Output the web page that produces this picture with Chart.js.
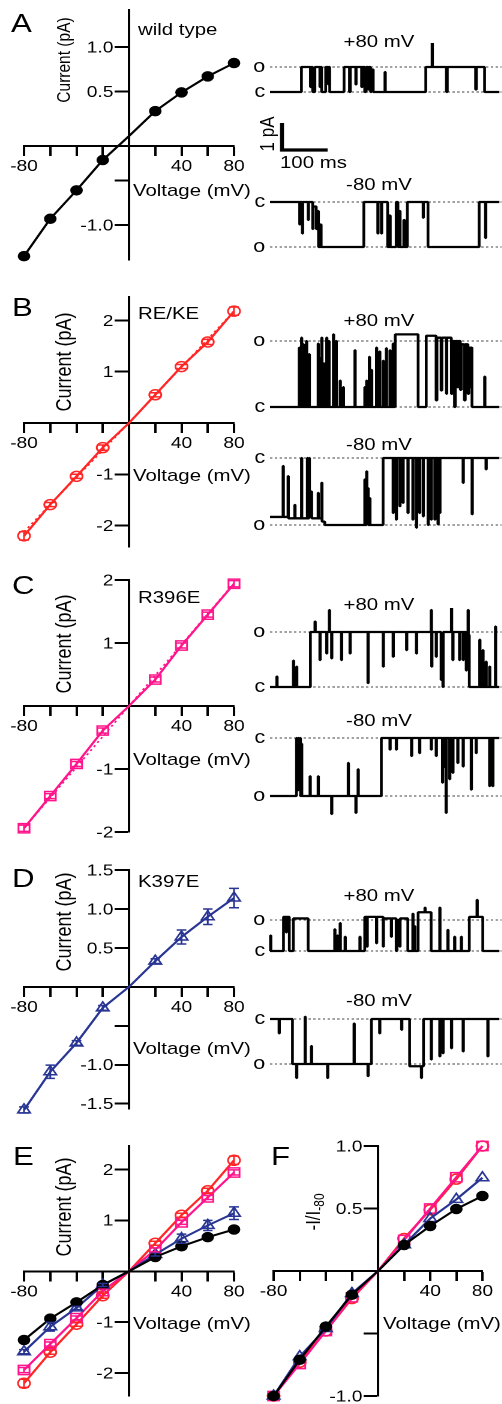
<!DOCTYPE html>
<html>
<head>
<meta charset="utf-8">
<script src="https://cdn.jsdelivr.net/npm/chart.js@4.4.1/dist/chart.umd.min.js"></script>
<style>
html, body { margin: 0; padding: 0; background: #fff; }
body { width: 502px; height: 1404px; overflow: hidden; position: relative; }
#wrap { position: absolute; left: 0; top: 0; width: 418.33px; height: 1404px; transform: scaleX(1.2); transform-origin: 0 0; }
.t { position: absolute; font-family: 'Liberation Sans', Arial, sans-serif; color: #000; white-space: nowrap; line-height: 1; }
.t sub { font-size: 70%; vertical-align: -0.25em; }
</style>
</head>
<body>
<div id="wrap"></div>
<script>
// ---- I-V data (pA) ----
const voltage = [-80, -60, -40, -20, 0, 20, 40, 60, 80];
const xTickLabels = [-80, 40, 80];

const wildType    = [-1.35, -0.93, -0.61, -0.27, 0, 0.28, 0.49, 0.67, 0.82];
const wildTypeErr = [0.03, 0.02, 0.02, 0.02, 0, 0.02, 0.02, 0.02, 0.03];
const reke        = [-2.2, -1.59, -1.04, -0.48, 0, 0.55, 1.1, 1.58, 2.18];
const rekeErr     = [0.08, 0.04, 0.04, 0.05, 0, 0.04, 0.04, 0.05, 0.08];
const r396e       = [-1.94, -1.43, -0.92, -0.39, 0, 0.42, 0.96, 1.45, 1.94];
const r396eErr    = [0.05, 0.04, 0.04, 0.04, 0, 0.04, 0.04, 0.04, 0.05];
const k397e       = [-1.58, -1.09, -0.72, -0.27, 0, 0.33, 0.64, 0.9, 1.14];
const k397eErr    = [0.04, 0.085, 0.03, 0.03, 0, 0.03, 0.09, 0.1, 0.124];

// dotted reference lines in B and C
const dotV    = [-80, 0, 80];
const rekeDot = [-2.12, 0, 2.18];
const r396Dot = [-1.94, 0, 1.95];

// normalized -I/I-80 (panel F)
const wildTypeNorm = [-1, -0.71, -0.445, -0.19, 0, 0.208, 0.36, 0.496, 0.6];
const rekeNorm     = [-1, -0.73, -0.48, -0.22, 0, 0.26, 0.49, 0.735, 1.0];
const r396eNorm    = [-1, -0.744, -0.48, -0.21, 0, 0.248, 0.5, 0.75, 1.0];
const k397eNorm    = [-1, -0.685, -0.46, -0.18, 0, 0.21, 0.42, 0.573, 0.746];

// ---- single channel traces: [time ms, fraction of open level] ----
const traceApos = [[0,0],[70,1],[90,0.2],[92,1],[95,0],[100,1],[111,0.2],[113,1],[115,0],[124,1],[130,0.3],[131,1],[133,0],[165,1],[177,0],[179,1],[191,0.3],[192,1],[204,0.2],[206,1],[211,0],[214,1],[218,0.1],[220,1],[224,0],[226,0.9],[230,0],[256,0.8],[257,0],[347,1],[361,2.2],[362,1],[393,0],[395,1],[458,0.1],[460,1],[478,0],[511,0]];
const traceAneg = [[0,0],[66,0.5],[67,0],[72,0.7],[73,0],[85,0.4],[86,0],[95,0.6],[96,0.1],[103,0.6],[105,0.2],[108,1],[112,0.5],[114,1],[209,0],[240,0.7],[241,0],[248,0.7],[249,0],[262,1],[266,0.3],[268,1],[281,0],[285,1],[288,0.2],[290,1],[298,0.4],[300,1],[306,0],[341,0.35],[342,0],[352,1],[466,0],[480,0.8],[481,0],[511,0]];

const traceBpos = [[0,0],[65,0.9],[66,0],[70,1.05],[71,0],[74,0.95],[75,0],[78,0.7],[79,0],[81,1.0],[82,0],[87,0.8],[88,0],[107,0.96],[108,0],[111,0.74],[112,0],[115,1.05],[116,0],[120,0.66],[121,0],[126,1.05],[127,0],[131,1.0],[132,0],[141,1.1],[142,0],[147,1.0],[148,0],[156,0.4],[157,0],[163,0.3],[164,0],[189,0.86],[190,0],[211,0.3],[212,0],[215,0.4],[216,0],[221,0.76],[222,0],[226,0.56],[227,0],[237,0.9],[238,0],[244,0.84],[245,0],[252,0.7],[253,0],[259,0.89],[260,0],[267,0.86],[268,0],[274,0.96],[275,0],[279,1.1],[330,0],[348,1.08],[370,0.1],[372,1.05],[381,0.25],[383,1.05],[393,0.2],[394,1.05],[404,0.2],[406,1.0],[411,0],[413,1.0],[418,0.3],[420,1.0],[424,0.26],[426,0.95],[433,0.1],[435,0.95],[441,0.2],[443,0.9],[446,0.3],[447,0.9],[450,0],[478,0.46],[479,0],[511,0]];
const traceBneg = [[0,0.88],[29,0.12],[30,0.88],[40,0.27],[41,0.9],[55,0.7],[56,0.9],[70,0],[71,0.9],[83,0],[84,0.9],[87,0],[88,0.85],[92,0.5],[93,0.9],[107,0.52],[108,0.9],[115,0.37],[116,0.95],[122,1.0],[211,0.32],[212,1.0],[215,0.2],[216,0.95],[218,0.45],[219,1.0],[222,0.6],[223,1.0],[252,0],[274,0.82],[275,0],[281,0.92],[282,0],[289,0.72],[290,0],[296,0.67],[297,0],[307,0.82],[308,0],[318,0.92],[319,0],[326,1.04],[327,0],[333,0.82],[334,0],[341,0.87],[342,0],[352,1.0],[353,0],[359,0.92],[360,0],[367,0.92],[368,0],[374,0.99],[375,0],[378,0.82],[379,0],[430,0.37],[431,0],[450,0.84],[451,0],[481,0.17],[482,0],[511,0]];

const traceCpos = [[0,0],[15,0.19],[16,0],[52,0.48],[53,0],[59,0.37],[60,0],[90,1.0],[100,1.19],[101,1.0],[111,0.49],[112,1.0],[126,0.61],[127,1.0],[132,1.4],[133,1.0],[137,0.52],[138,1.0],[159,0.49],[160,1.0],[178,0.61],[179,1.0],[218,0.07],[219,1.0],[252,0.37],[253,1.0],[274,0.55],[275,1.0],[304,0.67],[305,1.0],[326,0.61],[327,1.0],[359,1.4],[360,0.37],[361,1.0],[370,0.55],[371,1.0],[381,0.13],[382,0.8],[385,0],[386,1.0],[404,1.45],[405,1.0],[407,0.49],[408,1.0],[422,0.49],[423,1.0],[430,0.49],[431,1.0],[437,0.3],[438,0.95],[441,1.4],[442,0.95],[444,0],[467,0.86],[468,0],[474,0.67],[475,0],[481,0.46],[482,0],[489,0.37],[490,0],[502,1.1],[503,0],[511,0]];
const traceCneg = [[0,1.0],[59,0],[60,0.9],[63,0],[64,0.8],[67,0],[68,1.0],[70,0.1],[71,1.0],[89,0.66],[90,1.0],[107,0.66],[108,1.0],[137,1.31],[138,1.0],[174,0.43],[175,1.0],[191,1.29],[192,1.0],[196,0.54],[197,1.0],[248,0],[267,0.2],[268,0],[281,0.2],[282,0],[315,0.31],[316,0],[333,0.26],[334,0],[359,0.2],[360,0],[370,0.31],[371,0],[384,0.77],[385,0],[389,0.5],[390,0],[392,1.29],[393,0],[400,0.71],[401,0],[407,0.6],[408,0],[418,0.43],[419,0],[430,0.49],[431,0],[448,0.89],[449,0],[459,0.26],[460,0],[489,0.83],[490,0],[496,0.83],[497,0],[511,0]];

const traceDpos = [[0,0],[1,0.5],[2,0],[30,1.1],[36,0.6],[37,1.1],[43,0],[52,1.05],[85,0],[144,0.7],[145,0],[150,0.5],[151,0],[156,0.9],[157,0],[167,0.46],[168,0],[200,0.46],[201,0],[211,1.1],[216,0.14],[217,1.1],[237,0.25],[238,1.1],[252,0.14],[253,1.05],[270,0.46],[271,1.05],[281,0],[283,1.0],[289,0.14],[290,1.05],[307,0],[318,1.2],[319,0],[322,0.8],[323,0],[330,1.25],[345,1.4],[346,1.25],[359,0],[378,1.4],[379,0],[396,0.68],[397,0],[411,0.46],[412,0],[426,0.46],[427,0],[444,1.1],[461,1.65],[462,1.1],[474,0],[511,0]];
const traceDneg = [[0,0],[20,0.32],[21,0],[50,1.0],[59,1.31],[60,1.0],[78,-0.05],[79,1.0],[92,0.6],[93,1.0],[128,1.31],[129,1.0],[187,0.1],[188,1.0],[218,1.27],[219,1.0],[226,0],[244,0.32],[245,0],[293,0.24],[294,0],[311,1.05],[337,1.31],[338,1.05],[342,0],[359,0.9],[360,0],[378,0.83],[379,0],[385,0.76],[386,0],[404,0.65],[405,0],[430,0.72],[431,0],[485,0.83],[486,0],[511,0]];

// scale bar: 100 ms, 1 pA
const scaleBarT = [0, 0, 100];
const scaleBarI = [1, 0, 0];

// ---- layout ----
const S = 1.2;  // figure is stretched horizontally
const M = 24;
const wrap = document.getElementById('wrap');
const FONT = "'Liberation Sans', Arial, sans-serif";
Chart.defaults.font.family = FONT;
Chart.defaults.color = '#000';

const BLACK = '#000000', RED = '#ff2626', PINK = '#ff148c', BLUE = '#283593';

function addCanvas(left, top, w, h) {
  const c = document.createElement('canvas');
  w = Math.round(w); h = Math.round(h);
  c.width = w; c.height = h;
  c.style.cssText = 'position:absolute;left:' + left + 'px;top:' + top + 'px;width:' + w + 'px;height:' + h + 'px';
  wrap.appendChild(c);
  return c;
}

function text(str, x, y, size, mode) {
  const d = document.createElement('div');
  d.className = 't';
  d.innerHTML = str;
  d.style.left = (x / S) + 'px';
  d.style.top = y + 'px';
  d.style.fontSize = size + 'px';
  if (mode === 'rot') d.style.transform = 'translate(-50%,-50%) rotate(-90deg)';
  else if (mode === 'center') d.style.transform = 'translate(-50%,-50%)';
  else d.style.transform = 'translateY(-50%)';
  wrap.appendChild(d);
}

const errorBars = {
  id: 'errorBars',
  afterDatasetsDraw(chart) {
    const ctx = chart.ctx, ys = chart.scales.y;
    chart.data.datasets.forEach((ds, i) => {
      if (!ds.errors) return;
      const meta = chart.getDatasetMeta(i);
      ctx.save();
      ctx.strokeStyle = ds.borderColor;
      ctx.lineWidth = 1.5;
      meta.data.forEach((pt, j) => {
        const e = ds.errors[j];
        if (!e) return;
        const v = ds.data[j].y;
        const y1 = ys.getPixelForValue(v + e), y2 = ys.getPixelForValue(v - e);
        ctx.beginPath();
        ctx.moveTo(pt.x, y1); ctx.lineTo(pt.x, y2);
        ctx.moveTo(pt.x - 4, y1); ctx.lineTo(pt.x + 4, y1);
        ctx.moveTo(pt.x - 4, y2); ctx.lineTo(pt.x + 4, y2);
        ctx.stroke();
      });
      ctx.restore();
    });
  }
};

// y tick labels for an axis that crosses at x = 0 (placed left of the tick marks)
const yTickText = {
  id: 'yTickText',
  afterDraw(chart, args, opts) {
    const ys = chart.scales.y, ctx = chart.ctx;
    const x = chart.scales.x.getPixelForValue(0) - 13;
    ctx.save();
    ctx.font = '16px ' + FONT;
    ctx.fillStyle = '#000';
    ctx.textAlign = 'right';
    ctx.textBaseline = 'middle';
    ys.ticks.forEach(t => {
      const lab = opts.labels[String(t.value)];
      if (lab) ctx.fillText(lab, x, ys.getPixelForValue(t.value) + 1);
    });
    ctx.restore();
  }
};

const styles = {
  wt:   {color: BLACK, shape: 'circle', r: 4.5, filled: true},
  reke: {color: RED, shape: 'circle', r: 5},
  r396: {color: PINK, shape: 'rect', r: 6.5},
  k397: {color: BLUE, shape: 'triangle', r: 6}
};

function ivSet(values, errs, st) {
  return {
    data: voltage.map((v, i) => ({x: v, y: values[i]})),
    errors: errs,
    borderColor: st.color,
    borderWidth: 2,
    pointStyle: st.shape,
    pointRadius: voltage.map(v => v === 0 ? 0 : st.r),
    pointBorderColor: st.color,
    pointBackgroundColor: st.filled ? st.color : 'rgba(0,0,0,0)',
    pointBorderWidth: 1.5,
    clip: false
  };
}

function dottedSet(values, color) {
  return {
    data: dotV.map((v, i) => ({x: v, y: values[i]})),
    borderColor: color, borderWidth: 1.5, borderDash: [2, 3],
    pointRadius: 0, clip: false
  };
}

function ivChart(p) {
  const c = addCanvas(p.x0 / S - M, p.yTop - M, (p.x1 - p.x0) / S + 2 * M, p.yBot - p.yTop + 2 * M);
  new Chart(c, {
    type: 'line',
    data: {datasets: p.datasets},
    options: {
      responsive: false, animation: false, devicePixelRatio: 2, events: [],
      layout: {padding: M},
      plugins: {legend: {display: false}, tooltip: {enabled: false}, yTickText: {labels: p.labels}},
      scales: {
        x: {
          type: 'linear', min: -80, max: 80, position: {y: p.cross},
          afterBuildTicks: s => { s.ticks = voltage.map(v => ({value: v})); },
          ticks: {autoSkip: false, maxRotation: 0, padding: 2, font: {size: 16}, color: '#000',
                  callback: v => xTickLabels.includes(v) ? String(v) : ''},
          grid: {drawOnChartArea: false, tickLength: 9, tickWidth: 2, color: '#000'},
          border: {color: '#000', width: 2}
        },
        y: {
          type: 'linear', min: p.yMin, max: p.yMax, position: {x: 0},
          afterBuildTicks: s => { s.ticks = p.ticks.map(v => ({value: v})); },
          ticks: {autoSkip: false, callback: () => ''},
          grid: {drawOnChartArea: false, tickLength: 11, tickWidth: 2, color: '#000'},
          border: {color: '#000', width: 2}
        }
      }
    },
    plugins: [errorBars, yTickText]
  });
}

// trace area: 0..516 ms spans page x 270..502
const TR_LEFT = 270 / S - 24;
const TR_W = 502 / S - TR_LEFT;

function traceChart(events, amp, yOpen, yClosed) {
  const top = Math.min(yOpen, yClosed) - M;
  const c = addCanvas(TR_LEFT, top, TR_W, Math.abs(yOpen - yClosed) + 2 * M);
  const level = y => ({
    data: [{x: 0, y: y}, {x: 516, y: y}],
    borderColor: '#444', borderWidth: 1, borderDash: [2, 2], pointRadius: 0, clip: false
  });
  new Chart(c, {
    type: 'line',
    data: {datasets: [
      {data: events.map(e => ({x: e[0], y: e[1] * amp})), stepped: true,
       borderColor: '#000', borderWidth: 2.3, borderJoinStyle: 'bevel', pointRadius: 0, clip: false},
      level(0), level(amp)
    ]},
    options: {
      responsive: false, animation: false, devicePixelRatio: 2, events: [],
      layout: {padding: {top: M, bottom: M, left: 0, right: 0}},
      plugins: {legend: {display: false}, tooltip: {enabled: false}},
      scales: {
        x: {type: 'linear', display: false, min: 0, max: 516},
        y: {
          type: 'linear', min: Math.min(0, amp), max: Math.max(0, amp),
          afterFit: s => { s.width = 24; },
          afterBuildTicks: s => { s.ticks = [{value: 0}, {value: amp}]; },
          ticks: {padding: 4, font: {size: 18}, color: '#000', callback: v => v === 0 ? 'c' : 'o'},
          grid: {display: false, drawTicks: false},
          border: {display: false}
        }
      }
    }
  });
}

// ---- panel A ----
ivChart({x0: 24.5, x1: 234.5, yTop: 10, yBot: 260, yMin: -1.393, yMax: 1.416, cross: -0.112,
  ticks: [1, 0.5, -0.5, -1], labels: {'1': '1.0', '0.5': '0.5', '-1': '-1.0'},
  datasets: [ivSet(wildType, wildTypeErr, styles.wt)]});
traceChart(traceApos, wildType[8], 66.7, 91.7);
traceChart(traceAneg, wildType[0], 246.7, 201.7);

// scale bar
(function () {
  const c = addCanvas(282 / S - 10, 112.7, 45 / S + 20, 47.3);
  new Chart(c, {
    type: 'line',
    data: {datasets: [{data: scaleBarT.map((t, i) => ({x: t, y: scaleBarI[i]})),
      borderColor: '#000', borderWidth: 3.3, pointRadius: 0, clip: false, borderCapStyle: 'butt'}]},
    options: {
      responsive: false, animation: false, devicePixelRatio: 2, events: [],
      layout: {padding: 10},
      plugins: {legend: {display: false}, tooltip: {enabled: false}},
      scales: {x: {type: 'linear', display: false, min: 0, max: 100},
               y: {type: 'linear', display: false, min: 0, max: 1}}
    }
  });
})();

// ---- panel B ----
ivChart({x0: 24.5, x1: 234.5, yTop: 297, yBot: 547, yMin: -2.417, yMax: 2.456, cross: 0,
  ticks: [2, 1, -1, -2], labels: {'2': '2', '1': '1', '-1': '-1', '-2': '-2'},
  datasets: [ivSet(reke, rekeErr, styles.reke), dottedSet(rekeDot, RED)]});
traceChart(traceBpos, reke[8], 341, 407.3);
traceChart(traceBneg, reke[0], 525.7, 458.3);

// ---- panel C ----
ivChart({x0: 24.5, x1: 234.5, yTop: 580, yBot: 832, yMin: -2, yMax: 2, cross: 0,
  ticks: [2, 1, -1, -2], labels: {'2': '2', '1': '1', '-1': '-1', '-2': '-2'},
  datasets: [ivSet(r396e, r396eErr, styles.r396), dottedSet(r396Dot, PINK)]});
traceChart(traceCpos, r396e[8], 632, 687.3);
traceChart(traceCneg, r396e[0], 796.7, 738.3);

// ---- panel D ----
ivChart({x0: 24.5, x1: 234.5, yTop: 870, yBot: 1109, yMin: -1.568, yMax: 1.5, cross: 0,
  ticks: [1.5, 1, 0.5, -0.5, -1, -1.5], labels: {'1.5': '1.5', '1': '1.0', '0.5': '0.5', '-1': '-1.0', '-1.5': '-1.5'},
  datasets: [ivSet(k397e, k397eErr, styles.k397)]});
traceChart(traceDpos, k397e[8], 920, 951);
traceChart(traceDneg, k397e[0], 1064.3, 1019);

// ---- panel E ----
ivChart({x0: 24.5, x1: 234.5, yTop: 1146, yBot: 1396, yMin: -2.45, yMax: 2.46, cross: 0,
  ticks: [2, 1, -1, -2], labels: {'2': '2', '1': '1', '-1': '-1', '-2': '-2'},
  datasets: [ivSet(wildType, wildTypeErr, styles.wt), ivSet(k397e, k397eErr, styles.k397),
             ivSet(r396e, r396eErr, styles.r396), ivSet(reke, rekeErr, styles.reke)]});

// ---- panel F ----
ivChart({x0: 274, x1: 483.3, yTop: 1145.7, yBot: 1396, yMin: -1, yMax: 1, cross: 0,
  ticks: [1, 0.5, -0.5, -1], labels: {'1': '1.0', '0.5': '0.5', '-1': '-1.0'},
  datasets: [ivSet(wildTypeNorm, null, styles.wt), ivSet(k397eNorm, null, styles.k397),
             ivSet(r396eNorm, null, styles.r396), ivSet(rekeNorm, null, styles.reke)]});

// ---- text ----
text('A', 11, 23, 26); text('B', 12, 307, 26); text('C', 12, 585, 26);
text('D', 12, 878, 26); text('E', 13, 1156, 26); text('F', 271, 1156, 26);
text('wild type', 138, 29, 17); text('RE/KE', 138, 313, 17);
text('R396E', 138, 597, 17); text('K397E', 138, 881, 17);
[190, 475, 759, 1048, 1323].forEach(y => text('Voltage (mV)', 133, y, 17));
text('Voltage (mV)', 383, 1323, 17);
text('Current (pA)', 63, 60, 15.5, 'rot');
[362, 644, 922, 1207].forEach(y => text('Current (pA)', 63, y, 18, 'rot'));
text('-I/I<sub>-80</sub>', 315, 1212, 17, 'rot');
[[41, 183.5], [320, 443.5], [604, 720], [895, 1000]].forEach(p => {
  text('+80 mV', 379, p[0], 17, 'center');
  text('-80 mV', 379, p[1], 17, 'center');
});
text('1 pA', 267, 134, 17, 'rot');
text('100 ms', 280, 161.5, 17);
</script>
</body>
</html>
